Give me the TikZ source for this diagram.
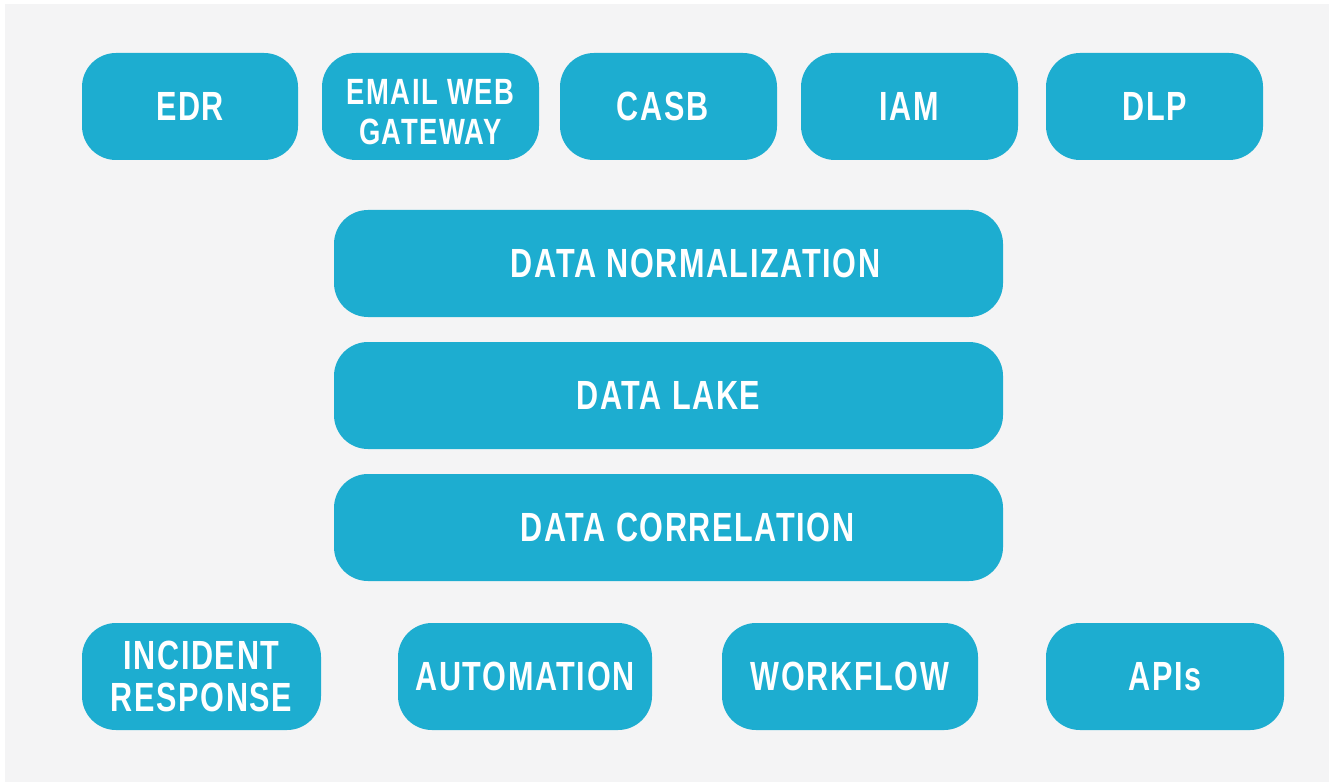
\documentclass[tikz,border=0pt]{standalone}
\usepackage{fontspec}
\setmainfont{Liberation Sans}[FakeStretch=0.75, LetterSpace=4]
\usepackage{tikz}

\definecolor{tile}{HTML}{1DADD0}
\definecolor{panel}{HTML}{F4F4F5}

\tikzset{
  block/.style={fill=tile, rounded corners=0.34cm, minimum height=1.07cm,
    text=white, font=\bfseries\fontsize{11.6}{12}\selectfont, align=center,
    inner sep=0pt},
  small/.style={text=white, align=center, inner sep=0pt,
    font=\bfseries\fontsize{10.4}{11.4}\selectfont},
}

\begin{document}
\begin{tikzpicture}
    % Canvas and panel
    \useasboundingbox (0,0) rectangle (13.29,7.82);
    \fill[white] (0,0) rectangle (13.29,7.82);
    \fill[panel] (0.05,0) rectangle (13.29,7.78);
    % Sources
    \node[block, minimum width=2.16cm] (edr) at (1.90,6.755) {EDR};
    \node[block, minimum width=2.17cm] (gateway) at (4.305,6.755) {};
    \node[small] (gatewaytext) at ([yshift=-0.06cm]gateway.center) {EMAIL WEB\\GATEWAY};
    \node[block, minimum width=2.17cm] (casb) at (6.685,6.755) {\hspace*{-0.12cm}CASB};
    \node[block, minimum width=2.17cm] (iam) at (9.095,6.755) {IAM};
    \node[block, minimum width=2.17cm] (dlp) at (11.545,6.755) {DLP};
    % Data layers
    \node[block, minimum width=6.69cm] (norm) at (6.685,5.185) {\hspace*{0.54cm}DATA NORMALIZATION};
    \node[block, minimum width=6.69cm] (lake) at (6.685,3.865) {DATA LAKE};
    \node[block, minimum width=6.69cm] (corr) at (6.685,2.545) {\hspace*{0.38cm}DATA CORRELATION};
    % Outputs
    \node[block, minimum width=2.39cm] (incident) at (2.015,1.055) {INCIDENT\\RESPONSE};
    \node[block, minimum width=2.54cm] (auto) at (5.25,1.055) {AUTOMATION};
    \node[block, minimum width=2.56cm] (flow) at (8.50,1.055) {WORKFLOW};
    \node[block, minimum width=2.38cm] (apis) at (11.65,1.055) {APIs};
\end{tikzpicture}
\end{document}
